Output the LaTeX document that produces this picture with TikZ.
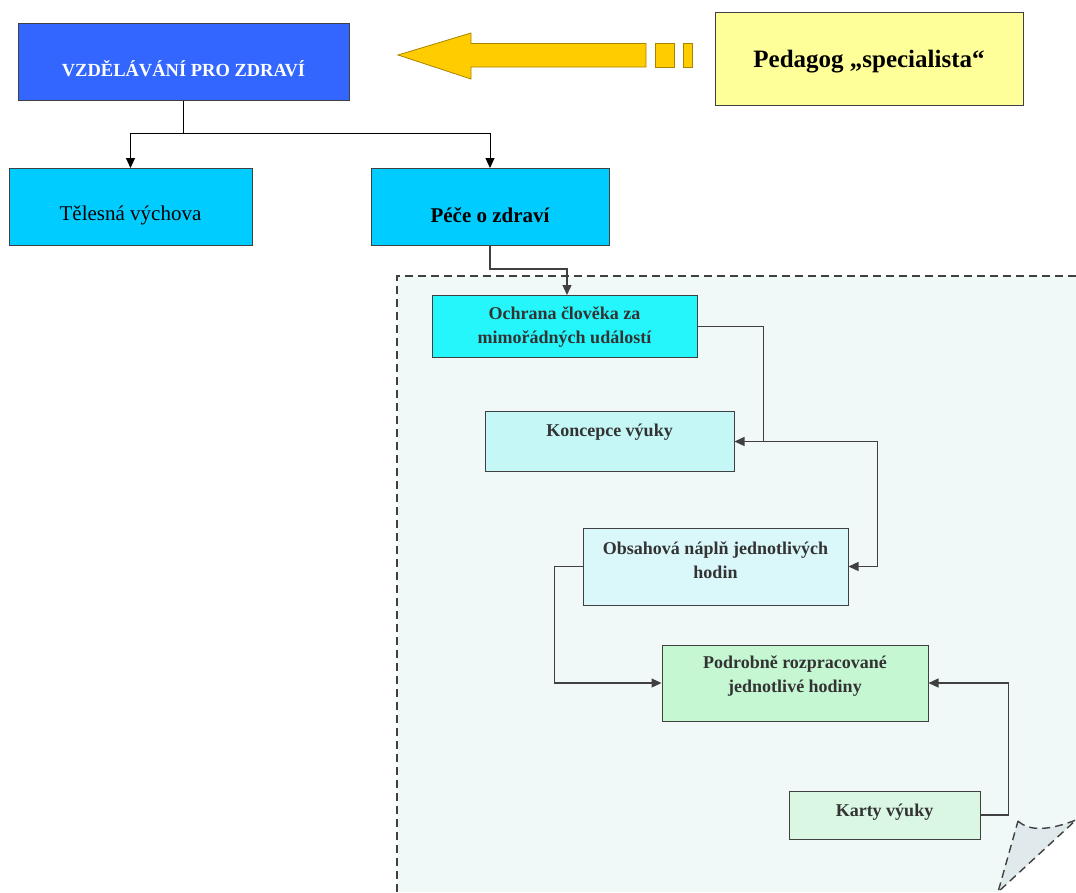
\documentclass[tikz,border=0pt]{standalone}
\usepackage{fontspec}
\setmainfont{Liberation Serif}
\usetikzlibrary{arrows.meta}

\definecolor{cBlue}{HTML}{3366FF}
\definecolor{cSky}{HTML}{00CCFF}
\definecolor{cYellow}{HTML}{FFFF99}
\definecolor{cGold}{HTML}{FFCC00}
\definecolor{cGoldEdge}{HTML}{A88400}
\definecolor{cAqua}{HTML}{25F6FB}
\definecolor{cPaleA}{HTML}{C6F7F7}
\definecolor{cPaleB}{HTML}{DAF7F9}
\definecolor{cMint}{HTML}{C6F7D3}
\definecolor{cMintB}{HTML}{DAF7E3}
\definecolor{cSheet}{HTML}{F0F8F8}
\definecolor{cFold}{HTML}{E0E9EB}
\definecolor{cInk}{HTML}{404040}
\definecolor{cText}{HTML}{333333}

\tikzset{
  box/.style={draw=cInk, line width=1pt, rectangle, inner sep=0pt},
  toptxt/.style={font=\fontsize{21}{25}\selectfont, text=black, inner sep=0pt},
  intxt/.style={font=\bfseries\fontsize{18}{23.5}\selectfont, text=cText,
                align=center, inner sep=0pt},
  topline/.style={draw=black, line width=1pt, -{Triangle[length=10pt,width=9pt]}},
  inline/.style={draw=cInk, line width=1.3pt, -{Triangle[length=10pt,width=9pt]}},
  sheetedge/.style={draw=cInk, line width=1.4pt, dash pattern=on 8pt off 5pt},
}

\begin{document}
\begin{tikzpicture}[x=1pt, y=-1pt]
\useasboundingbox (0,0) rectangle (1076,892);

% sheet with the curled corner
\fill[cSheet] (397,276) -- (1076,276) -- (1076,820) -- (998,892) -- (397,892) -- cycle;
\draw[sheetedge] (397,892) -- (397,276) -- (1076,276);
\filldraw[cFold, sheetedge] (1018,821) .. controls (1030,832) and (1050,830) .. (1076,820)
  -- (998,892) -- cycle;

% top level
\node[box, fill=cBlue, minimum width=331pt, minimum height=77pt] (vzd) at (183.5,61.5) {};
\node[inner sep=0pt, text=white, font=\bfseries\fontsize{18.5}{22}\selectfont] (vzdt) at (183.5,69) {VZDĚLÁVÁNÍ PRO ZDRAVÍ};

\node[box, fill=cYellow, minimum width=308pt, minimum height=93pt] (ped) at (869,58.5) {};
\node[inner sep=0pt, font=\bfseries\fontsize{25}{30}\selectfont] (pedt) at (869,62) {Pedagog „specialista“};

% big arrow pointing to the top box
\filldraw[fill=cGold, draw=cGoldEdge, line width=0.8pt]
  (398,55) -- (471,33) -- (471,43.5) -- (646,43.5) -- (646,67) -- (471,67) -- (471,79) -- cycle;
\filldraw[fill=cGold, draw=cGoldEdge, line width=0.8pt] (655,43.5) rectangle (674,67);
\filldraw[fill=cGold, draw=cGoldEdge, line width=0.8pt] (683,43.5) rectangle (692,67);

% second level
\node[box, fill=cSky, minimum width=243pt, minimum height=77pt] (tel) at (130.5,207) {};
\node[toptxt] (telt) at (130.5,215) {Tělesná výchova};
\node[box, fill=cSky, minimum width=238pt, minimum height=77pt] (pece) at (490,207) {};
\node[toptxt, font=\bfseries\fontsize{21}{25}\selectfont] (pecet) at (490,215) {Péče o zdraví};

% boxes on the sheet
\node[box, fill=cAqua, minimum width=265pt, minimum height=62pt] (ochr) at (564.5,326.5) {};
\node[intxt] (ochrt) at (564.5,327) {Ochrana člověka za\\mimořádných událostí};
\node[box, fill=cPaleA, minimum width=249pt, minimum height=60pt] (konc) at (609.5,441.5) {};
\node[intxt] (konct) at (609.5,432) {Koncepce výuky};
\node[box, fill=cPaleB, minimum width=265pt, minimum height=77pt] (obs) at (715.5,566.5) {};
\node[intxt] (obst) at (715.5,560) {Obsahová náplň jednotlivých\\hodin};
\node[box, fill=cMint, minimum width=266pt, minimum height=76pt] (podr) at (795,683) {};
\node[intxt] (podrt) at (795,676) {Podrobně rozpracované\\jednotlivé hodiny};
\node[box, fill=cMintB, minimum width=191pt, minimum height=48pt] (karty) at (884.5,815) {};
\node[intxt] (kartyt) at (884.5,812) {Karty výuky};

% connectors
\draw[topline] (vzd.south) -- ++(0,33) coordinate (split) -| (tel.north);
\draw[topline] (split) -| (pece.north);
\draw[inline] (pece.south) -- ++(0,23) -| ([xshift=2.5pt]ochr.north);
\draw[inline] (ochr.east) -- ++(66,0) |- (konc.east);
\draw[inline] (konc.east) -- ++(143,0) |- (obs.east);
\draw[inline] (obs.west) -- ++(-28,0) |- (podr.west);
\draw[inline] (karty.east) -- ++(28,0) |- (podr.east);
\end{tikzpicture}
\end{document}
